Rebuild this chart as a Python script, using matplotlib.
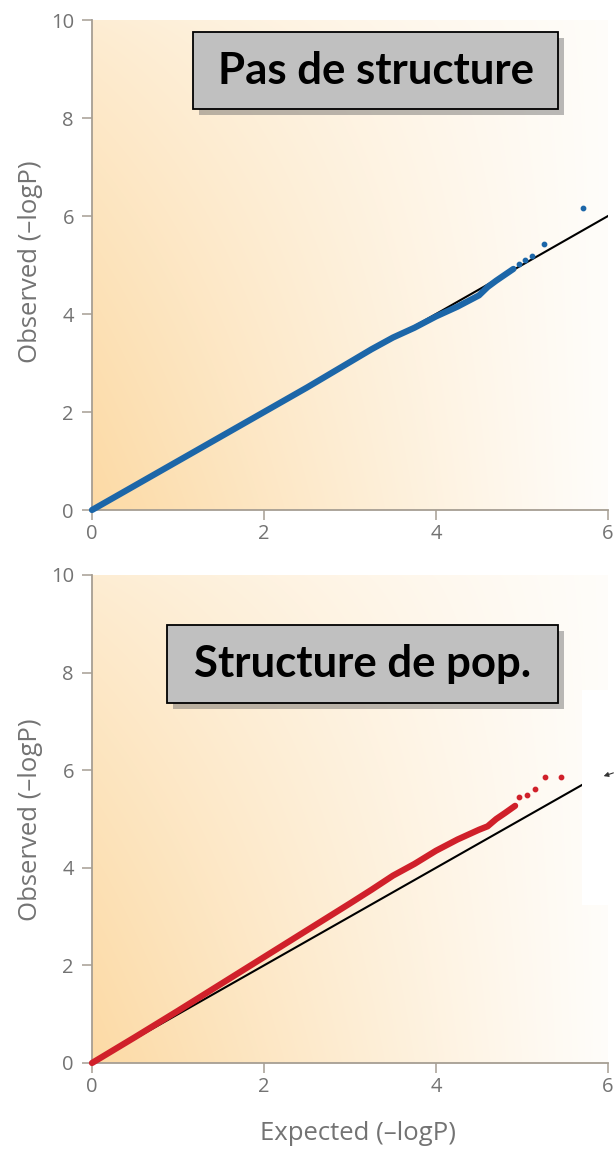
import numpy as np
import matplotlib
matplotlib.use("Agg")
import matplotlib.pyplot as plt
import matplotlib.patheffects as pe
from matplotlib.patches import Rectangle, FancyArrowPatch

# QQ plot without population structure (blue)
expected_null = [0.0, 0.5, 1.0, 1.5, 2.0, 2.5, 3.0, 3.25, 3.5, 3.75, 4.0, 4.25, 4.5, 4.6, 4.7, 4.8, 4.9]
observed_null = [0.0, 0.5, 1.0, 1.5, 2.0, 2.5, 3.02, 3.28, 3.52, 3.72, 3.95, 4.15, 4.38, 4.55, 4.68, 4.8, 4.92]
tail_expected_null = [4.97, 5.04, 5.12, 5.25, 5.71]
tail_observed_null = [5.02, 5.10, 5.18, 5.42, 6.16]

# QQ plot with population structure (red)
expected_strat = [0.0, 0.5, 1.0, 1.5, 2.0, 2.5, 3.0, 3.25, 3.5, 3.75, 4.0, 4.25, 4.5, 4.6, 4.7, 4.8, 4.92]
observed_strat = [0.0, 0.53, 1.07, 1.62, 2.17, 2.72, 3.27, 3.55, 3.84, 4.08, 4.35, 4.58, 4.78, 4.85, 5.0, 5.12, 5.27]
tail_expected_strat = [4.97, 5.06, 5.15, 5.27, 5.45]
tail_observed_strat = [5.45, 5.49, 5.61, 5.86, 5.86]

x_ticks = [0, 2, 4, 6]
y_ticks = [0, 2, 4, 6, 8, 10]

W, H = 614, 1149
AXIS_COL = "#a69e93"
LABEL_COL = "#737373"

fig = plt.figure(figsize=(W / 100, H / 100), dpi=100)


def px_rect(x0, y0, x1, y1):
    # pixel box (top-left origin) -> figure fraction [left, bottom, width, height]
    return [x0 / W, 1 - y1 / H, (x1 - x0) / W, (y1 - y0) / H]


def peach_background(ax):
    u = np.linspace(0, 1, 300)
    v = np.linspace(0, 1, 300)
    U, V = np.meshgrid(u, v)
    w = 0.06 + 0.94 * (1 - U) ** 1.1 * (0.45 + 0.55 * (1 - V) ** 0.8)
    peach = np.array([252, 218, 165]) / 255
    img = 1 - np.clip(w, 0, 1)[..., None] * (1 - peach)
    ax.imshow(img, extent=(0, 6, 0, 10), origin="lower", aspect="auto",
              interpolation="bilinear", zorder=0)


def style_axes(ax):
    ax.set_xlim(0, 6)
    ax.set_ylim(0, 10)
    ax.set_xticks(x_ticks)
    ax.set_yticks(y_ticks)
    for side in ("top", "right"):
        ax.spines[side].set_visible(False)
    for side in ("left", "bottom"):
        ax.spines[side].set_color(AXIS_COL)
        ax.spines[side].set_linewidth(1.3)
    ax.tick_params(direction="out", length=7, width=1.1, color=AXIS_COL,
                   labelsize=14.5, labelcolor=LABEL_COL)
    ax.tick_params(axis="y", pad=6)
    ax.tick_params(axis="x", pad=3)
    for lab in ax.get_xticklabels() + ax.get_yticklabels():
        lab.set_family(["Open Sans", "DejaVu Sans"])
    ax.set_facecolor("white")


def qq_panel(ax, exp, obs, tail_exp, tail_obs, color, diag_end):
    peach_background(ax)
    ax.plot([0, diag_end], [0, diag_end], color="black", lw=1.5, zorder=2)
    ax.plot(exp, obs, color=color, lw=4.5, solid_capstyle="round",
            zorder=3, clip_on=False)
    ax.scatter(tail_exp, tail_obs, s=10, color=color, zorder=3)
    style_axes(ax)


def title_box(x0, y0, x1, y1, text):
    box = Rectangle((x0 / W, 1 - y1 / H), (x1 - x0) / W, (y1 - y0) / H,
                    transform=fig.transFigure, facecolor="#c0c0c0",
                    edgecolor="black", lw=1.3, zorder=10,
                    path_effects=[pe.withSimplePatchShadow(offset=(4, -4),
                                                           shadow_rgbFace="#666666",
                                                           alpha=0.45)])
    fig.add_artist(box)
    fig.text((x0 + x1) / 2 / W, 1 - (y0 + y1) / 2 / H, text,
             ha="center", va="center", fontsize=31.5, fontweight="bold",
             family=["Lato", "DejaVu Sans"], color="black", zorder=11)


ax_top = fig.add_axes(px_rect(92, 20, 608, 510))
qq_panel(ax_top, expected_null, observed_null, tail_expected_null,
         tail_observed_null, "#1c66a8", 6)

ax_bot = fig.add_axes(px_rect(92, 575, 608, 1063))
qq_panel(ax_bot, expected_strat, observed_strat, tail_expected_strat,
         tail_observed_strat, "#d0202a", 6)

for yc in (262, 820):
    fig.text(31 / W, 1 - yc / H, "Observed (–logP)", rotation=90,
             ha="center", va="center", fontsize=18.5, color=LABEL_COL,
             family=["Open Sans", "DejaVu Sans"])
fig.text(358 / W, 1 - 1133 / H, "Expected (–logP)", ha="center", va="center",
         fontsize=18.5, color=LABEL_COL, family=["Open Sans", "DejaVu Sans"])

title_box(193, 32, 558, 109, "Pas de structure")
title_box(167, 625, 558, 703, "Structure de pop.")

# pasted panel edge on the right of the lower plot
fig.add_artist(Rectangle((582 / W, 1 - 905 / H), (W - 582) / W, (905 - 690) / H,
                         transform=fig.transFigure, facecolor="white",
                         edgecolor="none", zorder=5))
fig.add_artist(FancyArrowPatch((616 / W, 1 - 772 / H), (601 / W, 1 - 777 / H),
                               transform=fig.transFigure, arrowstyle="-|>",
                               mutation_scale=7, lw=0.8, color="#333333",
                               zorder=6))

fig.savefig("out.png", dpi=100)
